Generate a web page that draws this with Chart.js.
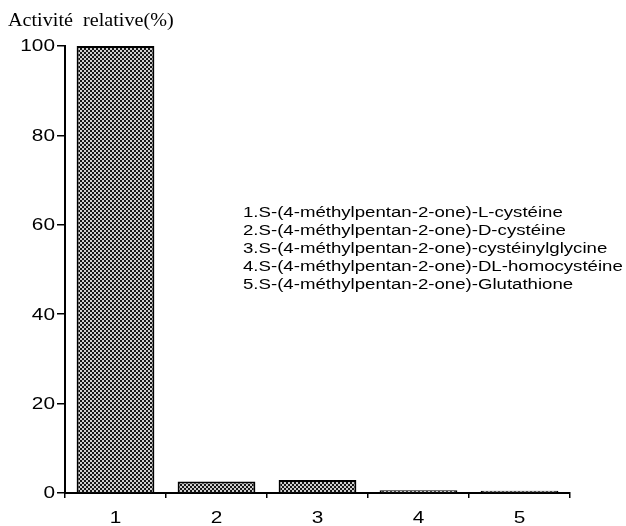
<!DOCTYPE html>
<html><head><meta charset="utf-8">
<script src="https://cdn.jsdelivr.net/npm/chart.js@4"></script>
<style>html,body{margin:0;padding:0;background:#fff}#c{display:block}</style>
</head><body>
<canvas id="c" width="626" height="526"></canvas>
<script>
const categories = ['1', '2', '3', '4', '5'];
const values = [100, 2.6, 2.9, 0.6, 0.5];
const yTickValues = [0, 20, 40, 60, 80, 100];
const axisTitle = 'Activité  relative(%)';
const legendLines = [
  '1.S-(4-méthylpentan-2-one)-L-cystéine',
  '2.S-(4-méthylpentan-2-one)-D-cystéine',
  '3.S-(4-méthylpentan-2-one)-cystéinylglycine',
  '4.S-(4-méthylpentan-2-one)-DL-homocystéine',
  '5.S-(4-méthylpentan-2-one)-Glutathione'
];

const SANS = '"Liberation Sans", Arial, sans-serif';
const SERIF = '"Liberation Serif", "Times New Roman", serif';

// halftone fill pattern (2px checkerboard)
const pc = document.createElement('canvas');
pc.width = 4; pc.height = 4;
const px = pc.getContext('2d');
px.fillStyle = '#cfcfcf'; px.fillRect(0, 0, 4, 4);
px.fillStyle = '#161616'; px.fillRect(0, 0, 2, 2); px.fillRect(2, 2, 2, 2);
const ctx = document.getElementById('c').getContext('2d');
const pattern = ctx.createPattern(pc, 'repeat');

function stretchedText(c, text, x, y, align, baseline, font, sx) {
  c.save();
  c.translate(x, y);
  c.scale(sx, 1);
  c.font = font;
  c.textAlign = align;
  c.textBaseline = baseline;
  c.fillStyle = '#000';
  c.fillText(text, 0, 0);
  c.restore();
}

const textPlugin = {
  id: 'texts',
  afterDraw(chart) {
    const c = chart.ctx;
    // axis title
    stretchedText(c, axisTitle, 8, 26, 'left', 'alphabetic', '18px ' + SERIF, 1.12);
    // legend block
    legendLines.forEach((t, i) =>
      stretchedText(c, t, 243, 217 + i * 18, 'left', 'alphabetic', '14px ' + SANS, 1.33));
    // y tick labels
    const ys = chart.scales.y;
    ys.ticks.forEach(t =>
      stretchedText(c, String(t.value), 55, ys.getPixelForValue(t.value) + 1, 'right', 'middle', '16px ' + SANS, 1.3));
    // x tick labels
    const xs = chart.scales.x;
    xs.ticks.forEach((t, i) =>
      stretchedText(c, xs.getLabelForValue(t.value), xs.getPixelForTick(i), 519, 'center', 'middle', '16px ' + SANS, 1.3));
  }
};

new Chart(ctx, {
  type: 'bar',
  data: {
    labels: categories,
    datasets: [{
      data: values,
      backgroundColor: pattern,
      borderColor: '#000',
      borderWidth: 2,
      barPercentage: 0.77,
      categoryPercentage: 1
    }]
  },
  options: {
    responsive: false,
    animation: false,
    layout: { padding: { top: 46, right: 56, left: 0, bottom: 0 } },
    plugins: { legend: { display: false }, tooltip: { enabled: false } },
    scales: {
      x: {
        afterFit(s) { s.height = 33; },
        grid: { drawOnChartArea: false, offset: true, tickLength: 5, color: '#000', lineWidth: 1.5 },
        border: { display: true, color: '#000', width: 2 },
        ticks: { display: false }
      },
      y: {
        min: 0, max: 100,
        afterFit(s) { s.width = 65; },
        afterBuildTicks(s) { s.ticks = yTickValues.map(v => ({ value: v })); },
        grid: { drawOnChartArea: false, tickLength: 8, color: '#000', lineWidth: 1.5 },
        border: { display: true, color: '#000', width: 2 },
        ticks: { display: false }
      }
    }
  },
  plugins: [textPlugin]
});
</script>
</body></html>
